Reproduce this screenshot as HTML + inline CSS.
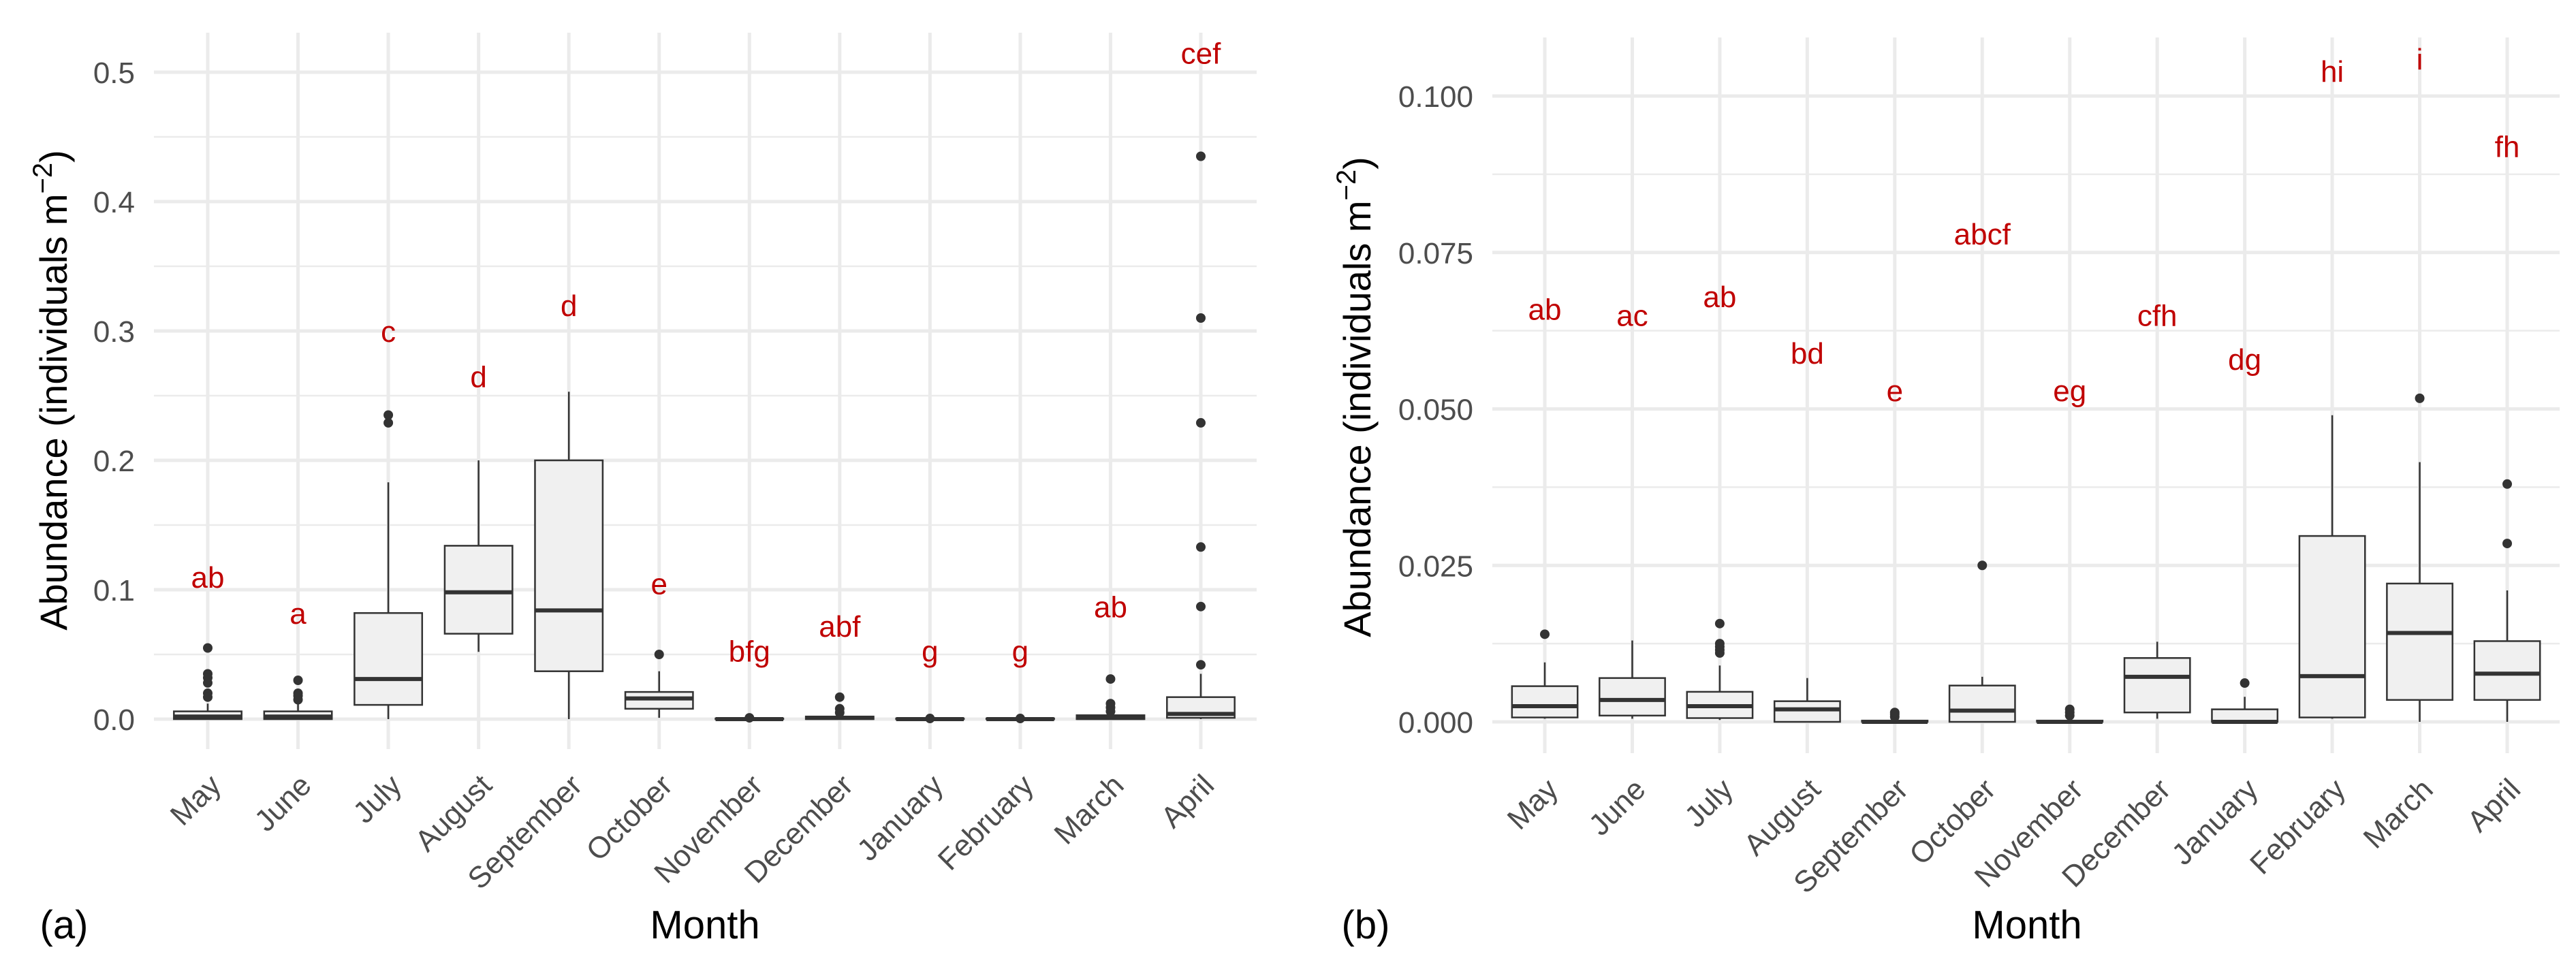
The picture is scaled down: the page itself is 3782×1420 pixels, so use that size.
<!DOCTYPE html>
<html><head><meta charset="utf-8"><style>
html,body{margin:0;padding:0;background:#fff;}
svg{display:block;font-family:"Liberation Sans",sans-serif;}
</style></head><body>
<svg id="fig" width="3782" height="1420" viewBox="0 0 3782 1420" xmlns="http://www.w3.org/2000/svg"></svg>
<script>
const months = ["May","June","July","August","September","October","November","December","January","February","March","April"];
// panel a stats: [low whisker, q1, median, q3, high whisker]
const statsA = [[0,0,0.002,0.006,0.012],[0,0,0.002,0.006,0.012],[0,0.011,0.031,0.082,0.183],[0.052,0.066,0.098,0.134,0.2],[0,0.037,0.084,0.2,0.253],[0.001,0.008,0.016,0.021,0.037],[0,0,0,0.0005,0.001],[0,0,0.001,0.002,0.003],[0,0,0,0.0005,0.001],[0,0,0,0.0005,0.001],[0,0,0.001,0.003,0.005],[0,0.001,0.004,0.017,0.035]];
const outA = [[0.055,0.035,0.032,0.028,0.02,0.017],[0.03,0.02,0.018,0.015],[0.229,0.235],[],[],[0.05],[0.001],[0.017,0.008,0.005],[0.0005],[0.0005],[0.031,0.012,0.009,0.006],[0.042,0.087,0.133,0.229,0.31,0.435]];
const lettersA = ["ab","a","c","d","d","e","bfg","abf","g","g","ab","cef"];
const letterYA = [0.11,0.082,0.30,0.265,0.32,0.105,0.053,0.072,0.053,0.053,0.087,0.515];
const ticksA = [0,0.1,0.2,0.3,0.4,0.5];
const tickLabelsA = ["0.0","0.1","0.2","0.3","0.4","0.5"];
// panel b
const statsB = [[0.0005,0.0007,0.0025,0.0057,0.0095],[0.0005,0.001,0.0035,0.007,0.013],[0.0003,0.0006,0.0025,0.0048,0.009],[0,0,0.002,0.0033,0.007],[0,0,0,0.0002,0.0005],[0,0,0.0018,0.0058,0.0072],[0,0,0,0.0002,0.0005],[0.0005,0.0015,0.0072,0.0102,0.0128],[0,0,0,0.002,0.004],[0.0005,0.0007,0.0073,0.0297,0.049],[0,0.0035,0.0142,0.0221,0.0415],[0,0.0035,0.0077,0.0129,0.021]];
const outB = [[0.014],[],[0.011,0.0115,0.012,0.0125,0.0157],[],[0.0008,0.0012,0.0015],[0.025],[0.001,0.0015,0.002],[],[0.0062],[],[0.0517],[0.0285,0.038]];
const lettersB = ["ab","ac","ab","bd","e","abcf","eg","cfh","dg","hi","i","fh"];
const letterYB = [0.066,0.065,0.068,0.059,0.053,0.078,0.053,0.065,0.058,0.104,0.106,0.092];
const ticksB = [0,0.025,0.05,0.075,0.1];
const tickLabelsB = ["0.000","0.025","0.050","0.075","0.100"];

const NS="http://www.w3.org/2000/svg";
const svg=document.getElementById('fig');
function el(tag,attrs,parent,text){const e=document.createElementNS(NS,tag);for(const k in attrs)e.setAttribute(k,attrs[k]);if(text!==undefined)e.textContent=text;(parent||svg).appendChild(e);return e;}

function panel(cfg){
  const g=el('g',{});
  
  
  const y=v=>cfg.y0+v*(cfg.yTop-cfg.y0)/(cfg.vTop);
  const x=i=>cfg.x0+i*(cfg.x1-cfg.x0)/(months.length-1);
  for(let i=0;i<cfg.ticks.length;i++){
    const mv=cfg.ticks[i]+cfg.step/2;
    if(y(mv)>=cfg.gTop){const l=el('line',{x1:cfg.gL,x2:cfg.gR,y1:y(mv),y2:y(mv),stroke:'#ebebeb','stroke-width':2.5},g);
      }
  }
  cfg.ticks.forEach((t,i)=>{
    const l=el('line',{x1:cfg.gL,x2:cfg.gR,y1:y(t),y2:y(t),stroke:'#ebebeb','stroke-width':5},g);
    
    const tx=el('text',{x:cfg.labR,y:y(t)+16,'text-anchor':'end','font-size':44,fill:'#4d4d4d'},g,cfg.tickLabels[i]);
    
  });
  months.forEach((m,i)=>{
    const l=el('line',{x1:x(i),x2:x(i),y1:cfg.gTop,y2:cfg.gBot,stroke:'#ebebeb','stroke-width':5},g);
    
  });
  const bw=0.75*(cfg.x1-cfg.x0)/11;
  months.forEach((m,i)=>{
    const s=cfg.stats[i],cx=x(i);
    const bg=el('g',{},g);
    
    
    el('line',{x1:cx,x2:cx,y1:y(s[0]),y2:y(s[1]),stroke:'#333','stroke-width':2.5},bg);
    el('line',{x1:cx,x2:cx,y1:y(s[3]),y2:y(s[4]),stroke:'#333','stroke-width':2.5},bg);
    el('rect',{x:cx-bw/2,y:y(s[3]),width:bw,height:Math.max(y(s[1])-y(s[3]),0.5),fill:'#f0f0f0',stroke:'#333','stroke-width':2.5},bg);
    el('line',{x1:cx-bw/2,x2:cx+bw/2,y1:y(s[2]),y2:y(s[2]),stroke:'#333','stroke-width':6},bg);
    cfg.out[i].forEach(o=>{const c=el('circle',{cx:cx,cy:y(o),r:7,fill:'#333'},bg);
      });
    const lt=el('text',{x:cx,y:y(cfg.letterY[i])+16,'text-anchor':'middle','font-size':44,fill:'#c00000'},g,cfg.letters[i]);
    
    const ax=cx+22,ay=cfg.gBot+56;
    const xt=el('text',{x:ax,y:ay,'text-anchor':'end','font-size':44,fill:'#4d4d4d',transform:`rotate(-45 ${ax} ${ay})`},g,m);
    
  });
  const yt=el('text',{x:0,y:0,'text-anchor':'middle','font-size':56,fill:'#000',transform:`translate(${cfg.titleX},${cfg.titleY}) rotate(-90)`},g);
  
  yt.innerHTML='Abundance (individuals  m<tspan dy="-22" font-size="40">−2</tspan><tspan dy="22">)</tspan>';
  const mt=el('text',{x:cfg.monthX,y:1378,'text-anchor':'middle','font-size':58,fill:'#000'},g,'Month');
  
  const pl=el('text',{x:cfg.plX,y:1378,'text-anchor':'middle','font-size':58,fill:'#000'},g,cfg.plabel);
  
}
panel({name:'panel-a',x0:305,x1:1763,y0:1056,yTop:106,vTop:0.5,step:0.1,gL:226,gR:1845,gTop:48,gBot:1100,labR:198,
  ticks:ticksA,tickLabelsA:0,tickLabels:tickLabelsA,stats:statsA,out:outA,letters:lettersA,letterY:letterYA,titleX:98,titleY:573,monthX:1035,plX:94,plabel:'(a)'});
panel({name:'panel-b',x0:2268,x1:3681,y0:1060,yTop:141,vTop:0.1,step:0.025,gL:2191,gR:3758,gTop:55,gBot:1106,labR:2163,
  ticks:ticksB,tickLabels:tickLabelsB,stats:statsB,out:outB,letters:lettersB,letterY:letterYB,titleX:2012,titleY:583,monthX:2976,plX:2005,plabel:'(b)'});
</script>
</body></html>
